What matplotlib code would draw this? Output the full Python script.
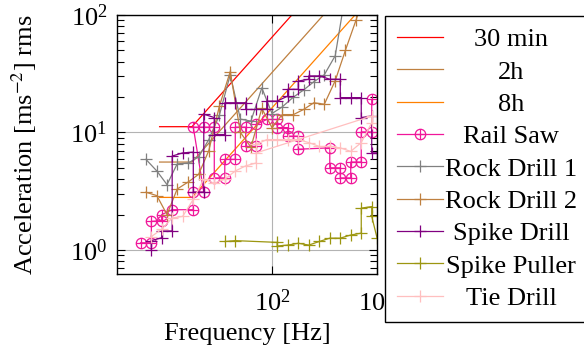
import matplotlib
matplotlib.use('Agg')
import matplotlib.pyplot as plt
from matplotlib.path import Path
from matplotlib.ticker import LogLocator, NullLocator

plt.rcParams['font.family'] = ['Liberation Serif', 'DejaVu Serif']
plt.rcParams['mathtext.fontset'] = 'stix'

# exposure limit curves
limit_f = [8.5, 17.3, 1000]
limit_30min = [11.2, 11.2, 647]
limit_2h = [5.6, 5.6, 324]
limit_8h = [2.8, 2.8, 162]

# measured tools
rail_saw_f = [5.6, 7.1, 7.1, 8.9, 8.9, 11.2, 17.8, 17.8, 22.4, 17.8, 22.4, 28.2, 28.2, 35.5,
              35.5, 44.7, 44.7, 56.2, 56.2, 70.8, 70.8, 89.1, 112, 112, 141, 141, 178, 178,
              355, 355, 447, 447, 562, 562, 708, 708, 891, 891]
rail_saw_a = [1.15, 1.15, 1.75, 1.78, 2.0, 2.2, 2.2, 3.1, 3.1, 11.1, 11.1, 11.1, 4.1, 4.1,
              5.9, 5.9, 11.1, 11.1, 7.6, 7.6, 11.7, 12.9, 12.9, 11.0, 11.0, 9.3, 9.3, 7.2,
              7.4, 5.0, 5.0, 4.1, 4.1, 5.6, 5.6, 10.1, 10.1, 19.1]

rock1_f = [6.3, 8, 10, 12.5, 16, 20, 25, 31.5, 40, 50, 63, 80, 100, 125, 160, 200, 250, 315, 400, 500]
rock1_a = [5.9, 4.7, 3.6, 5.4, 5.5, 6.2, 8.7, 14, 31, 13, 12.5, 24, 14.5, 16.5, 20, 23, 27, 31, 45, 150]

rock2_f = [6.3, 8, 10, 12.5, 16, 20, 25, 31.5, 40, 50, 63, 80, 100, 125, 160, 200, 250, 315,
           400, 500, 630, 800]
rock2_a = [3.1, 2.9, 2.0, 3.3, 3.8, 4.4, 7.0, 16.7, 33, 10, 7.5, 16, 11, 14.2, 14.2, 15.7,
           17.9, 17.4, 27.6, 50, 90, 170]

spike_drill_f = [7.1, 7.1, 8.9, 8.9, 11.2, 11.2, 14.1, 17.8, 17.8, 22.4, 22.4, 28.2, 28.2, 35.5,
                 35.5, 44.7, 56.2, 56.2, 70.8, 89.1, 89.1, 112, 141, 141, 178, 178, 224, 224,
                 282, 355, 447, 447, 562, 708, 708, 891, 891, 1000]
spike_drill_a = [1.0, 1.2, 1.27, 1.45, 1.45, 6.3, 6.7, 6.8, 3.1, 3.1, 14.3, 13.4, 9.6, 9.6,
                 17.9, 17.9, 17.9, 15.7, 15.7, 15.7, 18.5, 18.5, 20.4, 23.3, 23.3, 27.4, 28.4,
                 30.3, 30.3, 28.4, 28.4, 19.8, 19.8, 19.8, 13.4, 13.8, 6.7, 6.7]

spike_puller_f = [35.5, 44.7, 112, 112, 141, 178, 224, 282, 355, 447, 562, 708, 708, 891, 891, 1000]
spike_puller_a = [1.18, 1.2, 1.16, 1.08, 1.1, 1.14, 1.1, 1.18, 1.26, 1.26, 1.34, 1.39, 2.27,
                  2.34, 1.93, 1.27]

tie_drill_f = [7.1, 8.9, 11.2, 14.1, 17.8, 22.4, 28.2, 35.5, 44.7, 56.2, 70.8, 70.8, 891, 891,
               708, 562, 447, 355, 282, 224, 178, 141, 112, 89.1, 70.8]
tie_drill_a = [1.3, 1.5, 1.87, 1.93, 2.7, 4.0, 3.7, 4.0, 4.7, 5.2, 5.5, 6.7, 13.8, 12.1,
               8.2, 6.9, 7.4, 7.6, 7.6, 8.2, 8.7, 8.7, 8.7, 8.7, 7.9]

circle = Path.unit_circle()
cross = Path([(-1, 0), (1, 0), (0, -1), (0, 1)],
             [Path.MOVETO, Path.LINETO, Path.MOVETO, Path.LINETO])
oplus = Path.make_compound_path(circle, cross)

W, H = 584, 348
fig = plt.figure(figsize=(W / 100, H / 100), dpi=100)
ax = fig.add_axes([117 / W, 74 / H, 260 / W, 259 / H])

lw = 0.9
ax.plot(limit_f, limit_30min, color='#ff0000', lw=lw, label='30 min')
ax.plot(limit_f, limit_2h, color='#bf8040', lw=lw, label='2h')
ax.plot(limit_f, limit_8h, color='#ff8000', lw=lw, label='8h')
ax.plot(rail_saw_f, rail_saw_a, color='#f0169a', lw=lw, marker=oplus, ms=7.5, mfc='none',
        mew=0.9, label='Rail Saw')
plus = dict(marker='+', ms=8, mew=0.9, lw=lw)
ax.plot(rock1_f, rock1_a, color='#808080', label='Rock Drill 1', **plus)
ax.plot(rock2_f, rock2_a, color='#bf8040', label='Rock Drill 2', **plus)
ax.plot(spike_drill_f, spike_drill_a, color='#800080', label='Spike Drill', **plus)
ax.plot(spike_puller_f, spike_puller_a, color='#9c9610', label='Spike Puller', **plus)
ax.plot(tie_drill_f, tie_drill_a, color='#ffbfbf', label='Tie Drill', **plus)

ax.set_xscale('log')
ax.set_yscale('log')
ax.set_xlim(3.34, 1000)
ax.set_ylim(0.624, 100)
ax.set_xticks([100, 1000])
ax.xaxis.set_minor_locator(NullLocator())
ax.yaxis.set_major_locator(LogLocator(base=10))
ax.yaxis.set_minor_locator(LogLocator(base=10, subs=range(2, 10)))
ax.grid(True, which='major', color='#b3b3b3', lw=0.8)
ax.set_axisbelow(True)
ax.tick_params(which='both', direction='in', top=True, right=True, labelsize=19, width=0.8)
ax.tick_params(which='major', length=6)
ax.tick_params(which='minor', length=5)
ax.tick_params(axis='x', pad=11)
ax.tick_params(axis='y', pad=7)
for s in ax.spines.values():
    s.set_linewidth(1)

ax.set_xlabel('Frequency [Hz]', fontsize=19)
ax.set_ylabel('Acceleration [ms$^{-2}$] rms', fontsize=19)
ax.xaxis.set_label_coords(0.5, -0.19)
ax.yaxis.set_label_coords(-0.3, 0.5)

handles, labels = ax.get_legend_handles_labels()
leg = fig.legend(handles, labels, loc='upper left', bbox_to_anchor=(385 / W, 1 - 16 / H),
                 fontsize=19, numpoints=1, fancybox=False, framealpha=1, borderaxespad=0,
                 borderpad=0.45, labelspacing=0.335, handlelength=1.75, handletextpad=0.25)
leg.get_frame().set_edgecolor('black')
leg.get_frame().set_linewidth(1)
leg.set_zorder(20)

# centre the legend labels like the original
fig.canvas.draw()
for t in leg.get_texts():
    bb = t.get_window_extent()
    fig.text(511 / W, (bb.y0 + bb.y1) / 2 / fig.bbox.height, t.get_text(),
             ha='center', va='center', fontsize=19, zorder=30)
    t.set_visible(False)

fig.savefig('out.png', dpi=100)
